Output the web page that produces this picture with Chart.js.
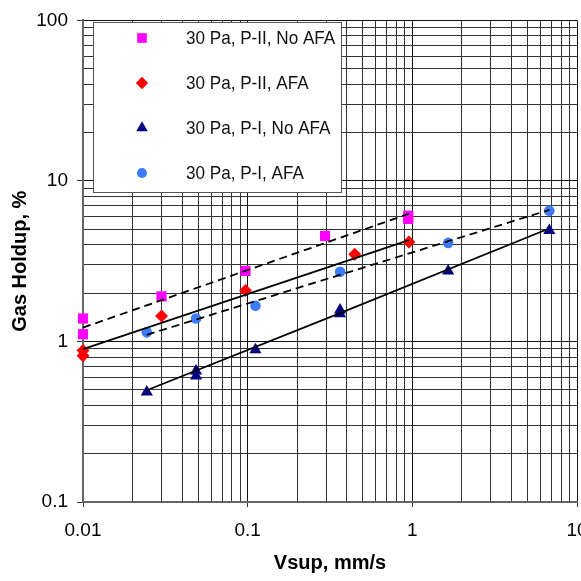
<!DOCTYPE html>
<html>
<head>
<meta charset="utf-8">
<title>Gas Holdup vs Vsup</title>
<script src="https://cdn.jsdelivr.net/npm/chart.js"></script>
<style>
  body { margin: 0; overflow: hidden; background: #fff; }
  canvas { display: block; }
</style>
</head>
<body>
<canvas id="holdupChart" width="620" height="581"></canvas>
<script>
// Measured points (Vsup in mm/s, gas holdup in %)
const p2NoAfaX = [0.01, 0.01, 0.03, 0.097, 0.295, 0.944, 0.944];
const p2NoAfaY = [1.39, 1.11, 1.91, 2.75, 4.54, 6.08, 5.8];
const p2AfaX = [0.01, 0.01, 0.03, 0.097, 0.447, 0.953];
const p2AfaY = [0.877, 0.816, 1.44, 2.08, 3.5, 4.17];
const p1NoAfaX = [0.0244, 0.0486, 0.0486, 0.1115, 0.364, 0.364, 1.65, 6.79];
const p1NoAfaY = [0.485, 0.654, 0.609, 0.887, 1.57, 1.49, 2.75, 4.92];
const p1AfaX = [0.0244, 0.0486, 0.1115, 0.364, 1.65, 6.79];
const p1AfaY = [1.14, 1.39, 1.67, 2.72, 4.11, 6.53];

// Fitted trend lines
const fitP2NoAfaX = [0.01, 0.955];
const fitP2NoAfaY = [1.22, 6.25];
const fitP2AfaX = [0.01, 0.955];
const fitP2AfaY = [0.897, 4.28];
const fitP1NoAfaX = [0.0244, 0.364, 6.6];
const fitP1NoAfaY = [0.497, 1.5, 5.0];
const fitP1AfaX = [0.0244, 6.79];
const fitP1AfaY = [1.10, 6.6];

const seriesLabels = ['30 Pa, P-II, No AFA', '30 Pa, P-II, AFA', '30 Pa, P-I, No AFA', '30 Pa, P-I, AFA'];

// Axis ticks
const xTickLabels = ['0.01', '0.1', '1', '10'];
const yTickLabels = ['0.1', '1', '10', '100'];
const minorSteps = [1, 2, 3, 4, 5, 6, 7, 8, 9];

const FONT = 'Liberation Sans, Arial, sans-serif';

function toPoints(xs, ys) {
    return xs.map((x, i) => ({ x: x, y: ys[i] }));
}

function logGrid(labels) {
    const values = [];
    labels.forEach((lab, i) => {
        const base = Number(lab);
        if (i === labels.length - 1) {
            values.push({ value: base, major: true });
            return;
        }
        minorSteps.forEach(m => values.push({ value: base * m, major: m === 1 }));
    });
    return values;
}

function fitLine(xs, ys, dashed) {
    return {
        type: 'line',
        data: toPoints(xs, ys),
        borderColor: '#000',
        borderWidth: 1.8,
        borderDash: dashed ? [8, 5] : [],
        pointRadius: 0,
        fill: false,
        tension: 0,
        clip: false
    };
}

function markers(xs, ys, label, style, color, radius) {
    return {
        type: 'scatter',
        label: label,
        data: toPoints(xs, ys),
        showLine: false,
        pointStyle: style,
        pointRadius: radius,
        backgroundColor: color,
        borderColor: color,
        pointBorderWidth: 0,
        clip: false
    };
}

const pointSets = [
    markers(p2NoAfaX, p2NoAfaY, seriesLabels[0], 'rect', '#ff00ff', 7.2),
    markers(p2AfaX, p2AfaY, seriesLabels[1], 'rectRot', '#ff0000', 6.5),
    markers(p1NoAfaX, p1NoAfaY, seriesLabels[2], 'triangle', '#000080', 7),
    markers(p1AfaX, p1AfaY, seriesLabels[3], 'circle', '#3c7cfc', 5.3)
];

// Legend box drawn inside the plot, like the original
const legendBox = {
    id: 'legendBox',
    afterDatasetsDraw(chart) {
        const ctx = chart.ctx;
        ctx.save();
        ctx.fillStyle = '#fff';
        ctx.fillRect(93, 22, 249, 171);
        ctx.strokeStyle = '#555';
        ctx.lineWidth = 1;
        ctx.strokeRect(93.5, 22.5, 248, 170);
        pointSets.forEach((ds, i) => {
            const y = 38 + i * 45;
            const opts = {
                pointStyle: ds.pointStyle,
                radius: ds.pointRadius * 0.95,
                rotation: 0,
                borderWidth: 0
            };
            ctx.fillStyle = ds.backgroundColor;
            ctx.strokeStyle = ds.borderColor;
            Chart.helpers.drawPoint(ctx, opts, 142, y);
            // slightly condensed text, as in the source picture
            ctx.save();
            ctx.translate(186, y + 1);
            ctx.scale(0.9, 1);
            ctx.fillStyle = '#111';
            ctx.font = '19px ' + FONT;
            ctx.textAlign = 'left';
            ctx.textBaseline = 'middle';
            ctx.fillText(ds.label, 0, 0);
            ctx.restore();
        });
        ctx.restore();
    }
};

function gridColor(ctx) {
    return ctx.tick && ctx.tick.major ? '#111' : '#333';
}
function tickColor(ctx) {
    return ctx.tick && ctx.tick.major ? '#333' : 'rgba(0,0,0,0)';
}

new Chart(document.getElementById('holdupChart').getContext('2d'), {
    data: {
        datasets: [
            fitLine(fitP2NoAfaX, fitP2NoAfaY, true),
            fitLine(fitP2AfaX, fitP2AfaY, false),
            fitLine(fitP1NoAfaX, fitP1NoAfaY, false),
            fitLine(fitP1AfaX, fitP1AfaY, true)
        ].concat(pointSets)
    },
    options: {
        responsive: false,
        animation: false,
        devicePixelRatio: 1,
        layout: { padding: { left: 0, top: 15, right: 43, bottom: 0 } },
        scales: {
            x: {
                type: 'logarithmic',
                min: 0.01,
                max: 10,
                afterBuildTicks: s => { s.ticks = logGrid(xTickLabels); },
                afterFit: s => { s.height = 79; },
                ticks: {
                    autoSkip: false,
                    maxRotation: 0,
                    padding: 12,
                    color: '#000',
                    font: { family: FONT, size: 19 },
                    callback: v => xTickLabels.find(l => Number(l) === v) || ''
                },
                grid: { color: gridColor, tickColor: tickColor, tickLength: 5, lineWidth: 1 },
                border: { color: '#666', width: 2 },
                title: {
                    display: true,
                    text: 'Vsup, mm/s',
                    color: '#000',
                    font: { family: FONT, size: 20, weight: 'bold' },
                    padding: { top: 0, bottom: 6 }
                }
            },
            y: {
                type: 'logarithmic',
                min: 0.1,
                max: 100,
                afterBuildTicks: s => { s.ticks = logGrid(yTickLabels); },
                afterFit: s => { s.width = 83; },
                ticks: {
                    autoSkip: false,
                    padding: 9,
                    color: '#000',
                    font: { family: FONT, size: 19 },
                    callback: v => yTickLabels.find(l => Number(l) === v) || ''
                },
                grid: { color: gridColor, tickColor: tickColor, tickLength: 6, lineWidth: 1 },
                border: { color: '#666', width: 2 },
                title: {
                    display: true,
                    text: 'Gas Holdup, %',
                    color: '#000',
                    font: { family: FONT, size: 20, weight: 'bold' },
                    padding: { top: 8, bottom: 0 }
                }
            }
        },
        plugins: {
            legend: { display: false },
            tooltip: { enabled: false }
        }
    },
    plugins: [legendBox]
});
</script>
</body>
</html>
